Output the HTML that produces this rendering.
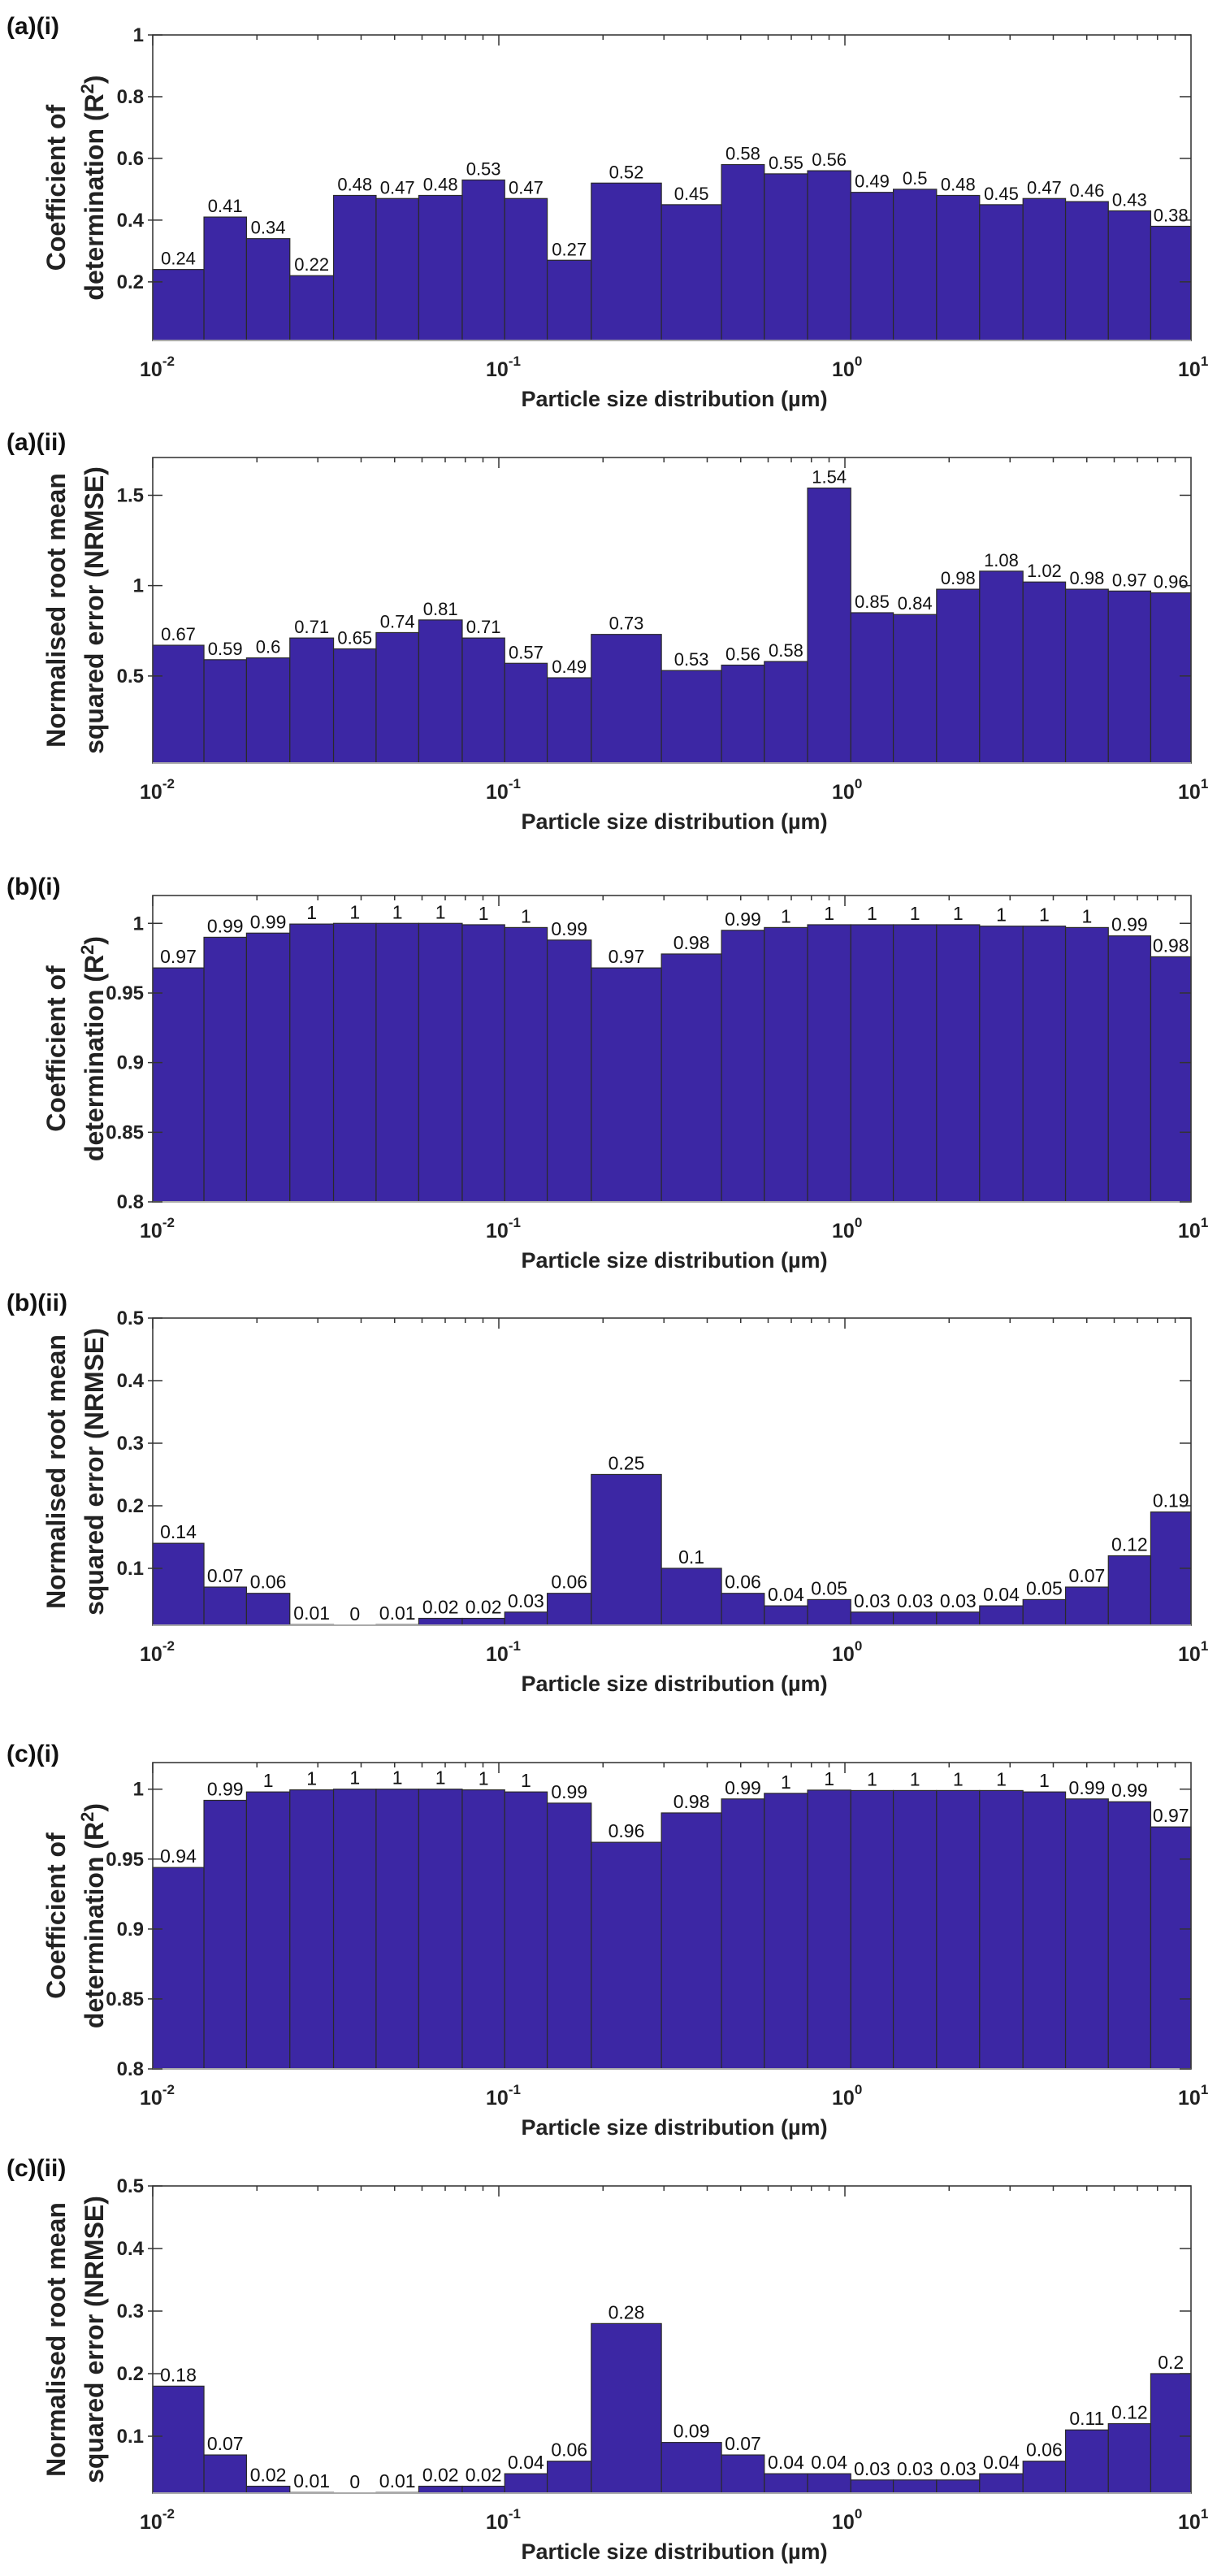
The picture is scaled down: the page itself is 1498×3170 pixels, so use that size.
<!DOCTYPE html>
<html><head><meta charset="utf-8"><style>
html,body{margin:0;padding:0;background:#fff;}
svg{display:block;font-family:"Liberation Sans",Arial,sans-serif;}
</style></head>
<body>
<svg id="fig" width="1498" height="3170" viewBox="0 0 1498 3170" xmlns="http://www.w3.org/2000/svg"></svg>
<script>
// Bin edges (µm)
const binEdges = [0.01,0.01406,0.01866,0.0249,0.0333,0.0442,0.0587,0.0784,0.104,0.138,0.185,0.295,0.44,0.585,0.78,1.04,1.38,1.84,2.45,3.27,4.34,5.77,7.65,10];
const xTickValues = [0.01,0.1,1,10];
const xTickExps = ["-2","-1","0","1"];
// Panel values
const a1Values = [0.24,0.41,0.34,0.22,0.48,0.47,0.48,0.53,0.47,0.27,0.52,0.45,0.58,0.55,0.56,0.49,0.5,0.48,0.45,0.47,0.46,0.43,0.38];
const a2Values = [0.67,0.59,0.6,0.71,0.65,0.74,0.81,0.71,0.57,0.49,0.73,0.53,0.56,0.58,1.54,0.85,0.84,0.98,1.08,1.02,0.98,0.97,0.96];
const b1Values = [0.968,0.990,0.993,0.9995,1.0,1.0,1.0,0.999,0.997,0.988,0.968,0.978,0.995,0.997,0.999,0.999,0.999,0.999,0.998,0.998,0.997,0.991,0.976];
const b2Values = [0.14,0.07,0.06,0.01,0.004,0.01,0.02,0.02,0.03,0.06,0.25,0.1,0.06,0.04,0.05,0.03,0.03,0.03,0.04,0.05,0.07,0.12,0.19];
const c1Values = [0.944,0.992,0.998,0.9995,1.0,1.0,1.0,0.9995,0.998,0.990,0.962,0.983,0.993,0.997,0.9993,0.999,0.999,0.999,0.999,0.998,0.993,0.991,0.973];
const c2Values = [0.18,0.07,0.02,0.01,0.004,0.01,0.02,0.02,0.04,0.06,0.28,0.09,0.07,0.04,0.04,0.03,0.03,0.03,0.04,0.06,0.11,0.12,0.2];
// Y tick values per panel
const a1Ticks = [0.2,0.4,0.6,0.8,1];
const a2Ticks = [0.5,1,1.5];
const b1Ticks = [0.8,0.85,0.9,0.95,1];
const b2Ticks = [0.1,0.2,0.3,0.4,0.5];
const c1Ticks = [0.8,0.85,0.9,0.95,1];
const c2Ticks = [0.1,0.2,0.3,0.4,0.5];

const NS = "http://www.w3.org/2000/svg";
const svg = document.getElementById('fig');
const L = 188, R = 1466;
function xScale(v){ return L + (Math.log10(v) + 2) / 3 * (R - L); }
function mk(tag, attrs, parent){
  const e = document.createElementNS(NS, tag);
  for (const k in attrs) e.setAttribute(k, attrs[k]);
  (parent || svg).appendChild(e);
  return e;
}
function fmt(v){ return String(parseFloat(v.toFixed(2))); }

function panel(cfg){
  const g = mk('g', {});
  
  
  const T = cfg.top, B = cfg.bottom;
  const yScale = v => B - (v - cfg.ymin) / (cfg.ymax - cfg.ymin) * (B - T);
  const pl = mk('text', {x: 8, y: cfg.labelY, 'font-size': 30, 'font-weight': 'bold', fill: '#111'}, g);
  pl.textContent = cfg.label;
  
  
  const bars = mk('g', {}, g);
  
  
  cfg.values.forEach((v, i) => {
    const x0 = xScale(binEdges[i]), x1 = xScale(binEdges[i+1]);
    const yv = yScale(Math.max(v, cfg.ymin));
    const r = mk('rect', {x: x0, y: yv, width: x1 - x0, height: B - yv, fill: '#3c27a4', stroke: '#2a2a2a', 'stroke-width': 1.2}, bars);
    
    
    const t = mk('text', {x: (x0 + x1)/2, y: yv - 6, 'font-size': cfg.valFont, 'text-anchor': 'middle', fill: '#111'}, bars);
    t.textContent = fmt(v);
    
    
  });
  const box = mk('rect', {x: L, y: T, width: R - L, height: B - T, fill: 'none', stroke: '#3a3a3a', 'stroke-width': 1.6}, g);
  
  
  mk('line', {x1: L, y1: B, x2: R, y2: B, stroke: '#aaa', 'stroke-width': 2}, g);
  for (let d = -2; d < 1; d++){
    for (let m = 1; m <= 9; m++){
      const v = m * Math.pow(10, d);
      const x = xScale(v);
      const len = m === 1 ? 13 : 6;
      mk('line', {x1: x, y1: T, x2: x, y2: T + len, stroke: '#333', 'stroke-width': 1.5}, g);
    }
  }
  xTickValues.forEach((v, i) => {
    const x = xScale(v);
    const t = mk('text', {x: x - 16, y: B + 44, 'font-size': 25, 'font-weight': 'bold', fill: '#222'}, g);
    t.textContent = '10';
    
    
    const s = mk('tspan', {dy: -13, 'font-size': 17}, t);
    s.textContent = xTickExps[i];
  });
  cfg.ticks.forEach(v => {
    const y = yScale(v);
    mk('line', {x1: L - 6, y1: y, x2: L + 12, y2: y, stroke: '#333', 'stroke-width': 1.5}, g);
    mk('line', {x1: R - 14, y1: y, x2: R, y2: y, stroke: '#333', 'stroke-width': 1.5}, g);
    const t = mk('text', {x: 177, y: y + 8, 'font-size': 24, 'font-weight': 'bold', 'text-anchor': 'end', fill: '#222'}, g);
    t.textContent = fmt(v);
    
    
  });
  const xt = mk('text', {x: 830, y: B + 81, 'font-size': 27, 'font-weight': 'bold', 'text-anchor': 'middle', fill: '#222'}, g);
  xt.textContent = 'Particle size distribution (µm)';
  
  
  const cy = (T + B) / 2;
  const yt = mk('text', {transform: 'translate(80,' + cy + ') rotate(-90)', 'font-size': 32, 'font-weight': 'bold', 'text-anchor': 'middle', fill: '#222'}, g);
  yt.textContent = cfg.yTitle1;
  
  
  const yt2 = mk('text', {transform: 'translate(127,' + cy + ') rotate(-90)', 'font-size': 32, 'font-weight': 'bold', 'text-anchor': 'middle', fill: '#222'}, g);
  
  
  if (cfg.r2) {
    yt2.appendChild(document.createTextNode('determination (R'));
    const sup = mk('tspan', {dy: -12, 'font-size': 22}, yt2);
    sup.textContent = '2';
    const cl = mk('tspan', {dy: 12}, yt2);
    cl.textContent = ')';
  } else {
    yt2.textContent = cfg.yTitle2;
  }
}

panel({name:'panel-a-i', label:'(a)(i)', labelY:42, top:43, bottom:419, ymin:0.01, ymax:1.0, values:a1Values, ticks:a1Ticks, valFont:22, yTitle1:'Coefficient of', r2:true});
panel({name:'panel-a-ii', label:'(a)(ii)', labelY:554, top:563, bottom:939, ymin:0.018, ymax:1.709, values:a2Values, ticks:a2Ticks, valFont:22, yTitle1:'Normalised root mean', yTitle2:'squared error (NRMSE)'});
panel({name:'panel-b-i', label:'(b)(i)', labelY:1101, top:1102, bottom:1479, ymin:0.8, ymax:1.02, values:b1Values, ticks:b1Ticks, valFont:23, yTitle1:'Coefficient of', r2:true});
panel({name:'panel-b-ii', label:'(b)(ii)', labelY:1613, top:1622, bottom:2000, ymin:0.009, ymax:0.5, values:b2Values, ticks:b2Ticks, valFont:23, yTitle1:'Normalised root mean', yTitle2:'squared error (NRMSE)'});
panel({name:'panel-c-i', label:'(c)(i)', labelY:2168, top:2169, bottom:2546, ymin:0.8, ymax:1.019, values:c1Values, ticks:c1Ticks, valFont:23, yTitle1:'Coefficient of', r2:true});
panel({name:'panel-c-ii', label:'(c)(ii)', labelY:2678, top:2690, bottom:3068, ymin:0.009, ymax:0.5, values:c2Values, ticks:c2Ticks, valFont:23, yTitle1:'Normalised root mean', yTitle2:'squared error (NRMSE)'});
</script>
</body></html>
